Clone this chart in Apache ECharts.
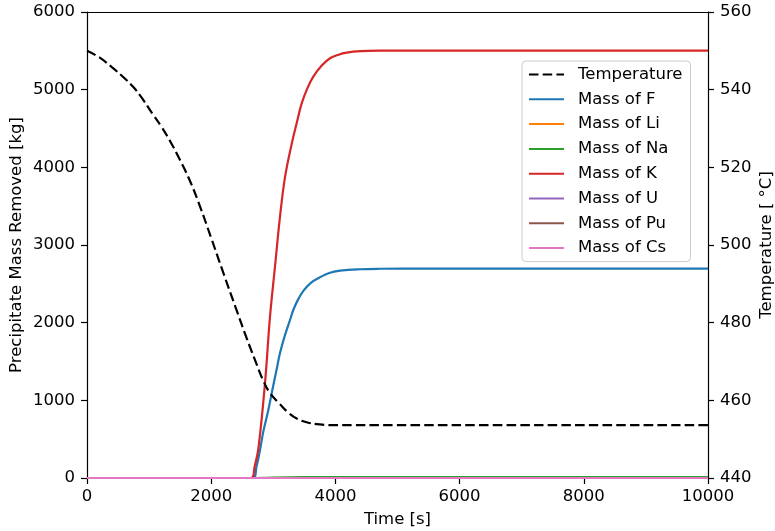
<!DOCTYPE html>
<html>
<head>
<meta charset="utf-8">
<script src="https://cdn.jsdelivr.net/npm/echarts@6/dist/echarts.min.js"></script>
<style>
html,body{margin:0;padding:0;background:#fff;}
#chart{width:775px;height:531px;}
</style>
</head>
<body>
<div id="chart"></div>
<script>
// ---- data ----
const xTicks = [0, 2000, 4000, 6000, 8000, 10000];
const leftTicks = [0, 1000, 2000, 3000, 4000, 5000, 6000];
const rightTicks = [440, 460, 480, 500, 520, 540, 560];

const timeTemp = [0, 200, 400, 600, 750, 900, 1050, 1200, 1350, 1500, 1650, 1800, 2000, 2200, 2400, 2571, 2700, 2840, 2950, 3108, 3250, 3377, 3550, 3750, 4000, 5000, 10000];
const temperature = [550, 548.3, 545.8, 543.0, 540.6, 537.5, 533.9, 530.4, 526.4, 521.8, 516.8, 510.8, 501.8, 492.6, 483.6, 476.0, 470.6, 465.0, 461.8, 459.0, 456.7, 455.3, 454.3, 453.8, 453.6, 453.6, 453.6];

const timeF = [0, 2670, 2730, 2786, 2840, 2920, 2974, 3054, 3108, 3188, 3269, 3322, 3400, 3484, 3600, 3752, 3900, 4074, 4400, 4718, 5500, 10000];
const massF = [0, 0, 150, 360, 600, 875, 1090, 1400, 1610, 1840, 2034, 2163, 2300, 2410, 2510, 2585, 2640, 2669, 2688, 2694, 2697, 2697];

const timeK = [0, 2640, 2700, 2760, 2866, 2947, 3027, 3108, 3188, 3296, 3380, 3457, 3550, 3644, 3780, 3913, 4050, 4182, 4400, 4718, 5200, 10000];
const massK = [0, 0, 150, 380, 1219, 2077, 2720, 3364, 3870, 4300, 4580, 4824, 5020, 5167, 5310, 5404, 5450, 5476, 5495, 5502, 5503, 5503];

const timeNa = [0, 2700, 3000, 3500, 4000, 10000];
const massNa = [0, 0, 4, 10, 12, 12];

const timeZero = [0, 10000];
const massLi = [0, 0];
const massU = [0, 0];
const massPu = [0, 0];
const massCs = [0, 0];

const names = ['Temperature', 'Mass of F', 'Mass of Li', 'Mass of Na', 'Mass of K', 'Mass of U', 'Mass of Pu', 'Mass of Cs'];
const colors = {
  'Mass of F': '#1f77b4', 'Mass of Li': '#ff7f0e', 'Mass of Na': '#2ca02c', 'Mass of K': '#d62728',
  'Mass of U': '#9467bd', 'Mass of Pu': '#8c564b', 'Mass of Cs': '#e377c2'
};

function pairs(xs, ys) { return xs.map((x, i) => [x, ys[i]]); }

const FONT = 'DejaVu Sans';
const FS = 16.5;

function massSeries(name, xs, ys) {
  return {
    name: name, type: 'line', yAxisIndex: 0, data: pairs(xs, ys),
    showSymbol: false, symbol: 'none', symbolSize: 0, smooth: 0.4,
    lineStyle: { color: colors[name], width: 2.2 },
    itemStyle: { color: colors[name] },
    animation: false
  };
}

const chart = echarts.init(document.getElementById('chart'), null, { renderer: 'canvas' });
const axisCommon = {
  axisLine: { show: true, onZero: false, lineStyle: { color: '#000', width: 1.2 } },
  axisTick: { show: true, inside: false, length: 6, lineStyle: { color: '#000', width: 1.2 } },
  axisLabel: { color: '#000', fontFamily: FONT, fontSize: FS, formatter: v => String(v) },
  splitLine: { show: false },
  nameMoveOverlap: false,
  nameTextStyle: { color: '#000', fontFamily: FONT, fontSize: FS }
};

chart.setOption({
  animation: false,
  backgroundColor: '#fff',
  grid: { left: 87, right: 67, top: 12, bottom: 53, show: false, containLabel: false, outerBoundsMode: 'none' },
  xAxis: [
    Object.assign({}, axisCommon, {
      type: 'value', position: 'bottom', min: xTicks[0], max: xTicks[xTicks.length - 1], interval: xTicks[1] - xTicks[0],
      name: 'Time [s]', nameLocation: 'middle', nameGap: 33,
      axisLabel: Object.assign({}, axisCommon.axisLabel, { margin: 10 })
    }),
    {
      type: 'value', position: 'top', min: xTicks[0], max: xTicks[xTicks.length - 1],
      axisLine: { show: true, onZero: false, lineStyle: { color: '#000', width: 1.2 } },
      axisTick: { show: false }, axisLabel: { show: false }, splitLine: { show: false }
    }
  ],
  yAxis: [
    Object.assign({}, axisCommon, {
      type: 'value', position: 'left', min: leftTicks[0], max: leftTicks[leftTicks.length - 1], interval: leftTicks[1] - leftTicks[0],
      name: 'Precipitate Mass Removed [kg]', nameLocation: 'middle', nameGap: 62, nameRotate: 90,
      axisLabel: Object.assign({}, axisCommon.axisLabel, { margin: 12 })
    }),
    Object.assign({}, axisCommon, {
      type: 'value', position: 'right', min: rightTicks[0], max: rightTicks[rightTicks.length - 1], interval: rightTicks[1] - rightTicks[0],
      name: 'Temperature [ °C]', nameLocation: 'middle', nameGap: 50, nameRotate: 90,
      axisLabel: Object.assign({}, axisCommon.axisLabel, { margin: 12 })
    })
  ],
  legend: {
    data: names,
    orient: 'vertical',
    left: 522, top: 61,
    itemWidth: 35, itemHeight: 14, itemGap: 5.8,
    padding: [4, 8, 4, 6],
    backgroundColor: 'rgba(255,255,255,0.8)',
    borderColor: '#cccccc', borderWidth: 1, borderRadius: 4,
    itemStyle: { opacity: 0 },
    textStyle: { color: '#000', fontFamily: FONT, fontSize: FS, lineHeight: 19, padding: [0, 0, 0, 9] },
    selectedMode: false
  },
  series: [
    massSeries('Mass of F', timeF, massF),
    massSeries('Mass of Li', timeZero, massLi),
    massSeries('Mass of Na', timeNa, massNa),
    massSeries('Mass of K', timeK, massK),
    massSeries('Mass of U', timeZero, massU),
    massSeries('Mass of Pu', timeZero, massPu),
    massSeries('Mass of Cs', timeZero, massCs),
    {
      name: 'Temperature', type: 'line', yAxisIndex: 1, data: pairs(timeTemp, temperature),
      showSymbol: false, symbol: 'none', symbolSize: 0, smooth: 0.4,
      lineStyle: { color: '#000', width: 2.2, type: [9.5, 4.2] },
      itemStyle: { color: '#000' },
      animation: false
    }
  ]
});
</script>
</body>
</html>
